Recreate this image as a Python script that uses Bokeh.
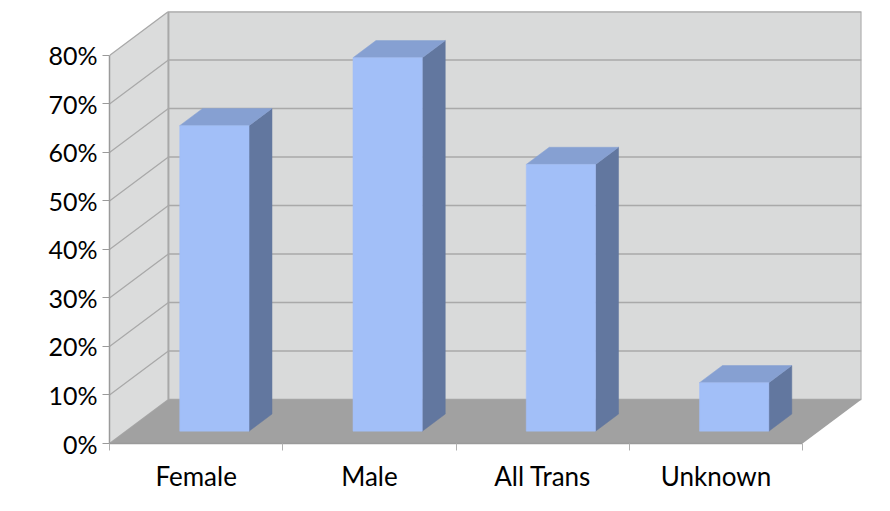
from bokeh.plotting import figure
from bokeh.models import Range1d, FixedTicker
from bokeh.embed import file_html
from bokeh.resources import INLINE

# ---- data ----
categories = ["Female", "Male", "All Trans", "Unknown"]
values = [63, 77, 55, 10]
y_ticks = [0, 10, 20, 30, 40, 50, 60, 70, 80]
y_tick_labels = ["0%", "10%", "20%", "30%", "40%", "50%", "60%", "70%", "80%"]

# ---- 3D geometry (oblique projection) ----
N = len(categories)
Y_MAX = y_ticks[-1]
DX = 0.34      # depth offset in category units
DY = 9.07      # depth offset in percent units
F1, F2 = 0.28, 0.67   # bar front / back depth fractions
BAR_W = 0.40
SHIFT = 0.01

def proj(x, y, f):
    return x + f * DX, y + f * DY

FONT = "Lato"

p = figure(width=882, height=503,
           x_range=Range1d(0, N + DX), y_range=Range1d(0, Y_MAX + DY),
           output_backend="svg", toolbar_location=None,
           min_border_left=109, min_border_right=21,
           min_border_top=11, min_border_bottom=60)
p.outline_line_color = None
p.grid.visible = False
p.background_fill_color = "white"
p.border_fill_color = "white"

# back wall
p.quad(left=DX, right=N + DX, bottom=DY, top=Y_MAX + DY,
       fill_color="#d9dada", line_color=None)
# side wall
p.patch([0, DX, DX, 0], [0, DY, Y_MAX + DY, Y_MAX],
        fill_color="#dbdcdc", line_color=None)

# gridlines (side-wall diagonal + back-wall horizontal)
gx, gy = [], []
for v in y_ticks:
    gx.append([0, DX, N + DX])
    gy.append([v, v + DY, v + DY])
p.multi_line(gx, gy, line_color="#a9a9a9", line_width=1.3)

# back wall edges
p.line([DX, DX, N + DX, N + DX], [DY, Y_MAX + DY, Y_MAX + DY, DY],
       line_color="#a8a8a8", line_width=2)

# floor
p.patch([0, DX, N + DX, N], [0, DY, DY, 0],
        fill_color="#a1a1a1", line_color=None)

# bars
fx, fy, sx, sy, tx, ty = [], [], [], [], [], []
for i, v in enumerate(values):
    x0 = i + 0.5 - BAR_W / 2 + SHIFT
    x1 = i + 0.5 + BAR_W / 2 + SHIFT
    pts = [proj(x0, 0, F1), proj(x1, 0, F1), proj(x1, v, F1), proj(x0, v, F1)]
    fx.append([q[0] for q in pts]); fy.append([q[1] for q in pts])
    pts = [proj(x1, 0, F1), proj(x1, 0, F2), proj(x1, v, F2), proj(x1, v, F1)]
    sx.append([q[0] for q in pts]); sy.append([q[1] for q in pts])
    pts = [proj(x0, v, F1), proj(x1, v, F1), proj(x1, v, F2), proj(x0, v, F2)]
    tx.append([q[0] for q in pts]); ty.append([q[1] for q in pts])

p.patches(sx, sy, fill_color="#62779f", line_color="#62779f", line_width=0.5)
p.patches(tx, ty, fill_color="#86a0d2", line_color="#86a0d2", line_width=0.5)
p.patches(fx, fy, fill_color="#a2bff8", line_color="#a2bff8", line_width=0.5)

# y axis
ya = p.yaxis[0]
ya.ticker = FixedTicker(ticks=y_ticks)
ya.major_label_overrides = {float(v): l for v, l in zip(y_ticks, y_tick_labels)}
ya.bounds = (0, Y_MAX)
ya.axis_line_color = "#9a9a9a"
ya.axis_line_width = 1.5
ya.major_tick_line_color = "#9a9a9a"
ya.major_tick_in = 0
ya.major_tick_out = 7
ya.minor_tick_line_color = None
ya.major_label_standoff = 5
ya.major_label_text_font = FONT
ya.major_label_text_font_size = "25px"
ya.major_label_text_color = "black"

# x axis
xa = p.xaxis[0]
xa.ticker = FixedTicker(ticks=[i + 0.5 for i in range(N)],
                        minor_ticks=list(range(N + 1)))
xa.major_label_overrides = {i + 0.5: c for i, c in enumerate(categories)}
xa.bounds = (0, N)
xa.axis_line_color = "#9a9a9a"
xa.axis_line_width = 1.5
xa.major_tick_line_color = None
xa.minor_tick_line_color = "#b0b0b0"
xa.minor_tick_in = 0
xa.minor_tick_out = 7
xa.major_label_standoff = 9
xa.major_label_text_font = FONT
xa.major_label_text_font_size = "26px"
xa.major_label_text_color = "black"

open("out.html", "w").write(file_html(p, INLINE))
